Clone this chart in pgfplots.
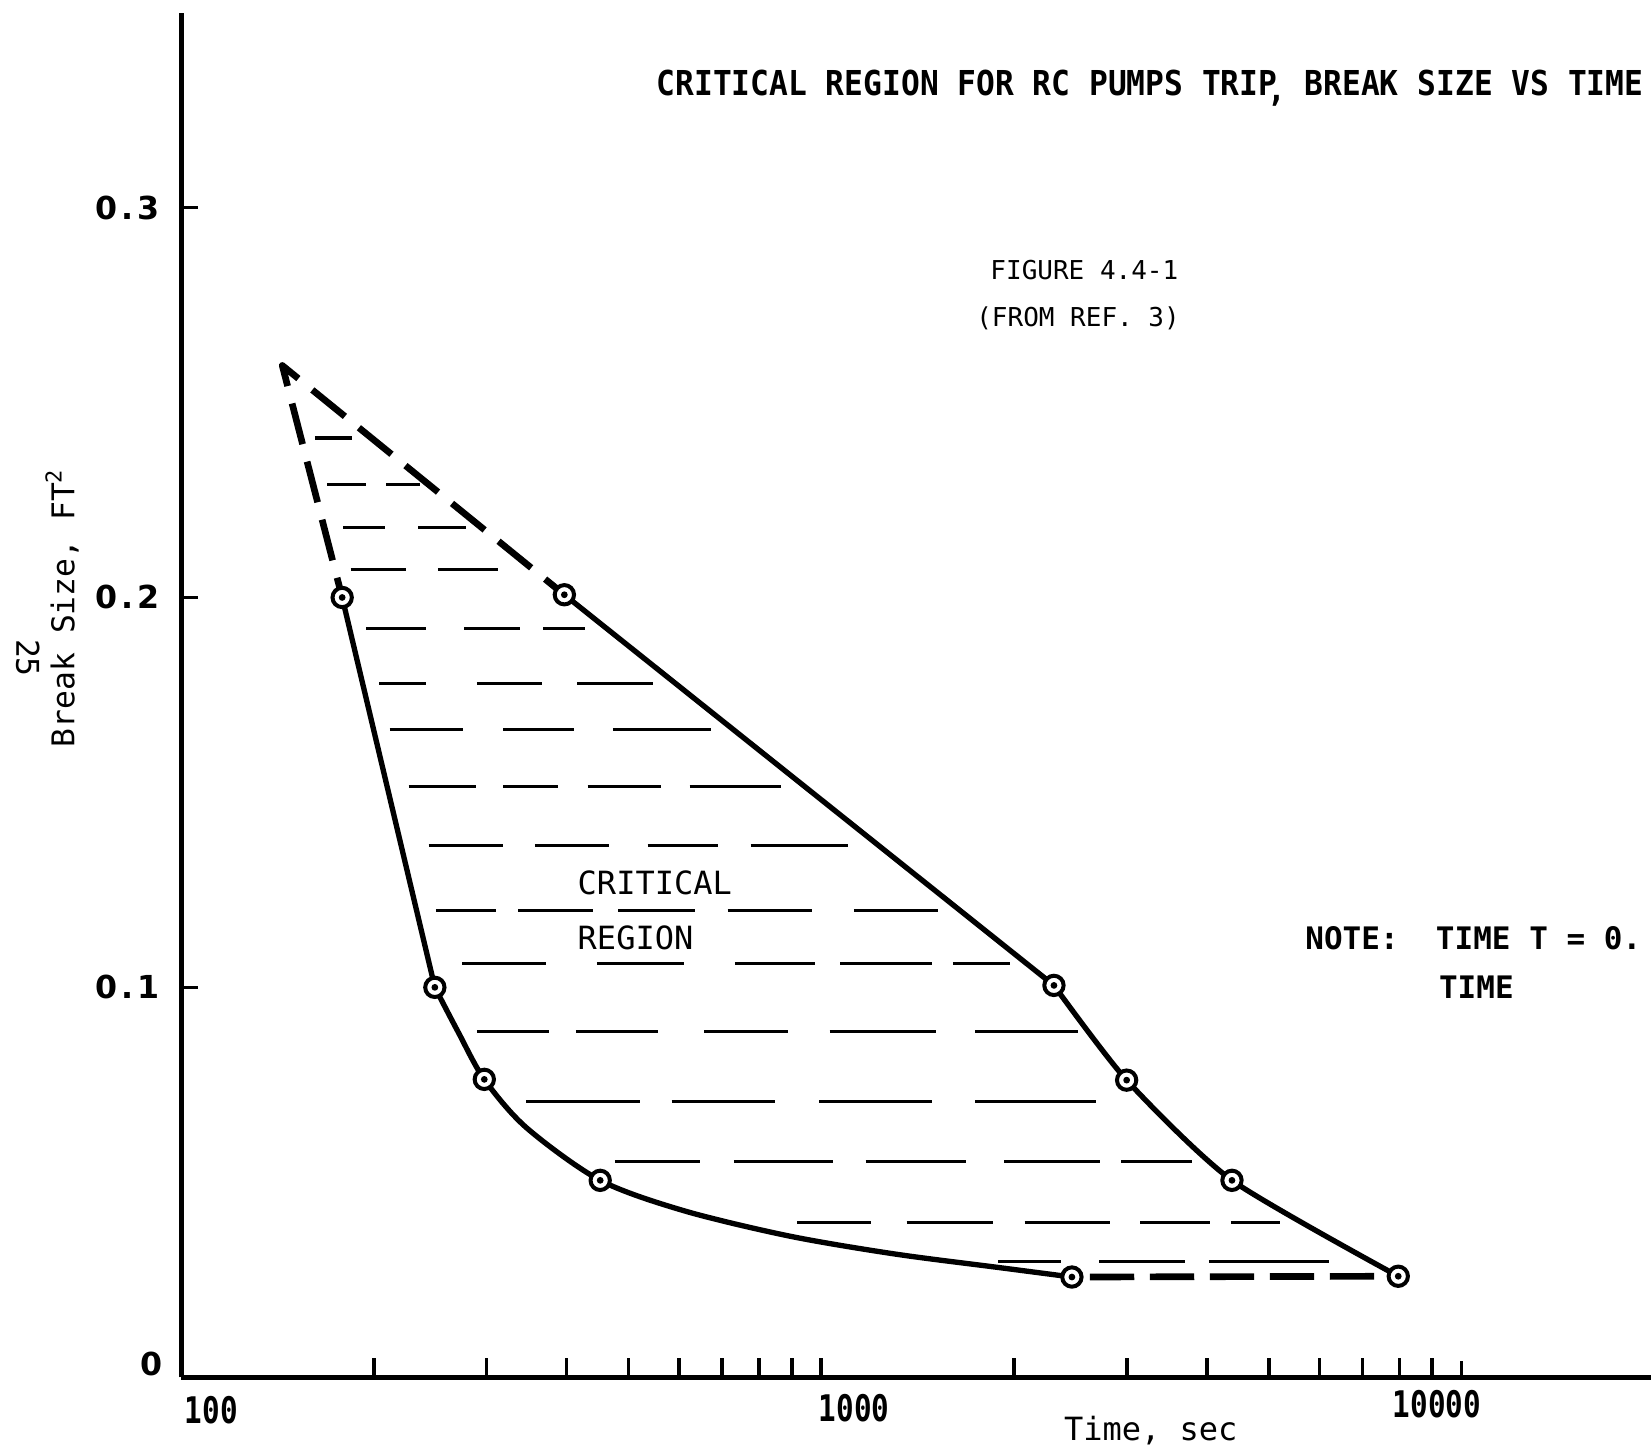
\documentclass[border=0pt]{standalone}
\usepackage{fontspec}
\setmainfont{DejaVu Sans Mono}
\newfontfamily\tstr[FakeStretch=0.91]{DejaVu Sans Mono}
\newfontfamily\cond[FakeStretch=0.8]{DejaVu Sans Mono}
\newfontfamily\sans{DejaVu Sans}
\usepackage{pgfplots}
\pgfplotsset{compat=1.18}
\begin{document}
\begin{tikzpicture}
\useasboundingbox (-54.33pt,-22.11pt) rectangle (441.0pt,413.2pt);
\begin{axis}[
  at={(0pt,0pt)}, anchor=south west,
  scale only axis, width=441.0pt, height=409.4pt,
  xmode=log, xmin=100, xmax=19775,
  ymin=0, ymax=0.35,
  axis lines=left,
  axis line style={-, line width=1.5pt},
  xtick={100,1000,10000}, xticklabels={},
  ytick={0.1,0.2,0.3},
  yticklabels={0\kern.12em.\kern.12em1,0\kern.12em.\kern.12em2,0\kern.12em.\kern.12em3},
  yticklabel style={font=\sans\bfseries\fontsize{9.5}{12}\selectfont, inner sep=0pt, anchor=east, xshift=-6.3pt},
  tick align=inside,
  major tick length=5pt, minor tick length=5.7pt,
  every tick/.style={black, line width=1.1pt},
  clip=false,
]
% hatching of the critical region
\addplot[black, line width=0.95pt, unbounded coords=jump] coordinates {
(161.8,0.24089) (184.7,0.24089) (184.7,nan)
(169.3,0.22900) (194.7,0.22900) (194.7,nan)
(209.3,0.22900) (236.2,0.22900) (236.2,nan)
(179.2,0.21793) (208.5,0.21793) (208.5,nan)
(234.5,0.21793) (279.1,0.21793) (279.1,nan)
(184.0,0.20713) (224.9,0.20713) (224.9,nan)
(251.9,0.20713) (312.7,0.20713) (312.7,nan)
(194.7,0.19201) (241.7,0.19201) (241.7,nan)
(277.0,0.19201) (338.5,0.19201) (338.5,nan)
(367.9,0.19201) (428.1,0.19201) (428.1,nan)
(203.8,0.17796) (241.7,0.17796) (241.7,nan)
(289.8,0.17796) (366.6,0.17796) (366.6,nan)
(415.4,0.17796) (545.5,0.17796) (545.5,nan)
(211.7,0.16608) (275.9,0.16608) (275.9,nan)
(318.6,0.16608) (410.7,0.16608) (410.7,nan)
(472.4,0.16608) (671.9,0.16608) (671.9,nan)
(226.6,0.15150) (288.7,0.15150) (288.7,nan)
(318.6,0.15150) (388.0,0.15150) (388.0,nan)
(431.4,0.15150) (562.3,0.15150) (562.3,nan)
(622.9,0.15150) (865.9,0.15150) (865.9,nan)
(243.5,0.13638) (318.6,0.13638) (318.6,nan)
(357.0,0.13638) (465.3,0.13638) (465.3,nan)
(535.3,0.13638) (689.9,0.13638) (689.9,nan)
(775.9,0.13638) (1099.3,0.13638) (1099.3,nan)
(250.0,0.11963) (310.3,0.11963) (310.3,nan)
(336.0,0.11963) (439.6,0.11963) (439.6,nan)
(481.5,0.11963) (634.8,0.11963) (634.8,nan)
(713.9,0.11963) (966.5,0.11963) (966.5,nan)
(1124.5,0.11963) (1522.5,0.11963) (1522.5,nan)
(274.9,0.10613) (372.1,0.10613) (372.1,nan)
(446.3,0.10613) (611.2,0.10613) (611.2,nan)
(733.0,0.10613) (977.5,0.10613) (977.5,nan)
(1070.5,0.10613) (1488.3,0.10613) (1488.3,nan)
(1605.4,0.10613) (1969.7,0.10613) (1969.7,nan)
(289.8,0.08858) (375.0,0.08858) (375.0,nan)
(413.8,0.08858) (556.0,0.08858) (556.0,nan)
(656.8,0.08858) (885.8,0.08858) (885.8,nan)
(1030.7,0.08858) (1511.0,0.08858) (1511.0,nan)
(1738.3,0.08858) (2519.4,0.08858) (2519.4,nan)
(346.3,0.07075) (521.3,0.07075) (521.3,nan)
(584.0,0.07075) (846.5,0.07075) (846.5,nan)
(992.4,0.07075) (1488.3,0.07075) (1488.3,nan)
(1738.3,0.07075) (2686.9,0.07075) (2686.9,nan)
(476.0,0.05536) (646.9,0.05536) (646.9,nan)
(730.3,0.05536) (1042.5,0.05536) (1042.5,nan)
(1172.4,0.05536) (1680.0,0.05536) (1680.0,nan)
(1932.7,0.05536) (2728.0,0.05536) (2728.0,nan)
(2942.6,0.05536) (3792.5,0.05536) (3792.5,nan)
(916.6,0.03970) (1194.8,0.03970) (1194.8,nan)
(1359.0,0.03970) (1853.9,0.03970) (1853.9,nan)
(2076.9,0.03970) (2822.5,0.03970) (2822.5,nan)
(3150.2,0.03970) (4044.7,0.03970) (4044.7,nan)
(4363.0,0.03970) (5213.0,0.03970) (5213.0,nan)
(1889.3,0.02971) (2371.3,0.02971) (2371.3,nan)
(2717.6,0.02971) (3693.3,0.02971) (3693.3,nan)
(4029.4,0.02971) (6205.0,0.02971)
};
% dashed upper boundary (extrapolated)
\addplot[black, line width=2.0pt, line join=round, dash pattern=on 12.6pt off 5.4pt, dash phase=6.5pt] coordinates {
(178.5,0.2) (143.9,0.2595) (396.9,0.2007)
};
% dashed lower boundary
\addplot[black, line width=2.0pt, dash pattern=on 13.3pt off 4.7pt, dash phase=12.6pt] coordinates {
(2463,0.0257) (7966,0.0259)
};
% left boundary curve
\addplot[black, line width=1.6pt] coordinates {(178.5,0.2) (249.1,0.1)};
\addplot[black, line width=1.6pt, smooth, tension=0.5] coordinates {
(249.1,0.1) (270.8,0.08858) (297.6,0.0764) (346.3,0.0640) (451.5,0.0505) (611.2,0.04267) (892.5,0.03619) (1303.6,0.0316) (1903.7,0.02809) (2463,0.0257)
};
% right boundary curve
\addplot[black, line width=1.6pt] coordinates {(396.9,0.2007) (2309,0.1005)};
\addplot[black, line width=1.6pt, smooth, tension=0.4] coordinates {
(2309,0.1005) (2999,0.0762) (4380,0.0505) (7966,0.0259)
};
% data point circles
\addplot[only marks, mark=*, mark size=2.9pt, mark options={fill=white, draw=black, line width=1.2pt}] coordinates {
(178.5,0.2) (249.1,0.1) (297.6,0.0764) (451.5,0.0505) (2463,0.0257)
(396.9,0.2007) (2309,0.1005) (2999,0.0762) (4380,0.0505) (7966,0.0259)
};
\addplot[only marks, mark=*, mark size=0.8pt, mark options={fill=black, draw=black}] coordinates {
(178.5,0.2) (249.1,0.1) (297.6,0.0764) (451.5,0.0505) (2463,0.0257)
(396.9,0.2007) (2309,0.1005) (2999,0.0762) (4380,0.0505) (7966,0.0259)
};
\end{axis}
% texts
\node[font=\tstr\bfseries\fontsize{10.3}{12}\selectfont, anchor=base west, inner sep=0pt] at (142.5pt,384.5pt) {CRITICAL REGION FOR RC PUMPS TRIP\kern-0.3em\raisebox{-0.3ex}{,} BREAK SIZE VS TIME};
\node[font=\fontsize{7.8}{9}\selectfont, anchor=base, inner sep=0pt] at (271.0pt,329.2pt) {FIGURE 4.4-1};
\node[font=\fontsize{7.8}{9}\selectfont, anchor=base, inner sep=0pt] at (269.1pt,315.3pt) {(FROM REF. 3)};
\node[font=\fontsize{9.6}{11}\selectfont, anchor=base west, inner sep=0pt] at (118.8pt,144.7pt) {CRITICAL};
\node[font=\fontsize{9.6}{11}\selectfont, anchor=base west, inner sep=0pt] at (118.8pt,128.3pt) {REGION};
\node[font=\bfseries\fontsize{9.3}{11}\selectfont, anchor=base west, inner sep=0pt] at (337.1pt,128.3pt) {NOTE:~~TIME T = 0.};
\node[font=\bfseries\fontsize{9.3}{11}\selectfont, anchor=base west, inner sep=0pt] at (377.2pt,113.7pt) {TIME};
\node[font=\fontsize{9.6}{11}\selectfont, anchor=base west, inner sep=0pt] at (264.7pt,-19.0pt) {Time, sec};
\node[font=\cond\bfseries\fontsize{11}{12}\selectfont, anchor=base west, inner sep=0pt] at (0.95pt,-13.9pt) {100};
\node[font=\cond\bfseries\fontsize{11}{12}\selectfont, anchor=base west, inner sep=0pt] at (191.1pt,-13.3pt) {1000};
\node[font=\cond\bfseries\fontsize{11}{12}\selectfont, anchor=base west, inner sep=0pt] at (363.3pt,-12.0pt) {10000};
\node[font=\sans\bfseries\fontsize{9.5}{12}\selectfont, anchor=base east, inner sep=0pt] at (-5.4pt,0.6pt) {0};
\node[font=\fontsize{9.4}{11}\selectfont, rotate=90, anchor=base, inner sep=0pt] at (-32.0pt,230.9pt) {Break Size, FT\textsuperscript{2}};
\node[font=\fontsize{9.4}{11}\selectfont, rotate=-90, inner sep=0pt] at (-46.0pt,215.8pt) {25};
\end{tikzpicture}
\end{document}
